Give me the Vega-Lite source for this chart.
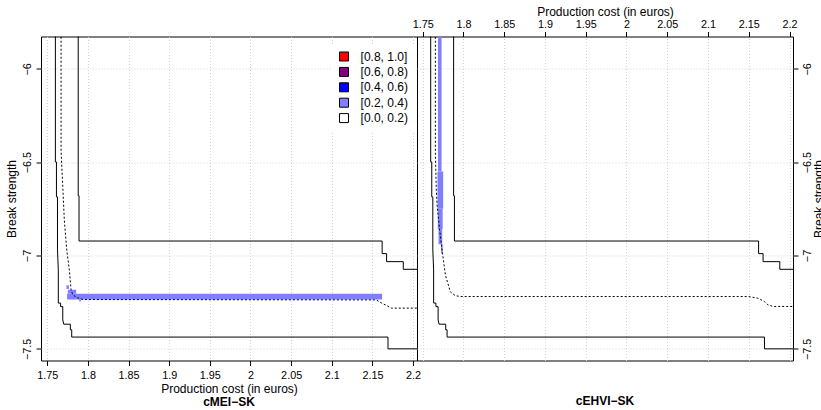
{
  "$schema": "https://vega.github.io/schema/vega-lite/v6.json",
  "padding": {"left": 4, "top": 4.5, "right": 0, "bottom": 0},
  "background": "white",
  "spacing": 0,
  "bounds": "flush",
  "datasets": {
    "attain": [
      {"line": "worst", "i": 0, "x": 1.7880, "y": -5.70},
      {"line": "worst", "i": 1, "x": 1.7880, "y": -6.68},
      {"line": "worst", "i": 2, "x": 1.7890, "y": -6.68},
      {"line": "worst", "i": 3, "x": 1.7890, "y": -6.9225},
      {"line": "worst", "i": 4, "x": 2.162, "y": -6.9225},
      {"line": "worst", "i": 5, "x": 2.162, "y": -6.99},
      {"line": "worst", "i": 6, "x": 2.1675, "y": -6.99},
      {"line": "worst", "i": 7, "x": 2.1675, "y": -7.033},
      {"line": "worst", "i": 8, "x": 2.188, "y": -7.033},
      {"line": "worst", "i": 9, "x": 2.188, "y": -7.074},
      {"line": "worst", "i": 10, "x": 2.23, "y": -7.074},
      {"line": "best", "i": 0, "x": 1.7599, "y": -5.70},
      {"line": "best", "i": 1, "x": 1.7599, "y": -6.499},
      {"line": "best", "i": 2, "x": 1.7612, "y": -6.499},
      {"line": "best", "i": 3, "x": 1.7612, "y": -6.686},
      {"line": "best", "i": 4, "x": 1.7625, "y": -6.686},
      {"line": "best", "i": 5, "x": 1.7625, "y": -6.97},
      {"line": "best", "i": 6, "x": 1.7635, "y": -7.077},
      {"line": "best", "i": 7, "x": 1.7635, "y": -7.255},
      {"line": "best", "i": 8, "x": 1.7663, "y": -7.255},
      {"line": "best", "i": 9, "x": 1.7663, "y": -7.274},
      {"line": "best", "i": 10, "x": 1.769, "y": -7.274},
      {"line": "best", "i": 11, "x": 1.769, "y": -7.345},
      {"line": "best", "i": 12, "x": 1.7702, "y": -7.368},
      {"line": "best", "i": 13, "x": 1.7783, "y": -7.368},
      {"line": "best", "i": 14, "x": 1.7783, "y": -7.398},
      {"line": "best", "i": 15, "x": 1.7800, "y": -7.398},
      {"line": "best", "i": 16, "x": 1.7800, "y": -7.437},
      {"line": "best", "i": 17, "x": 2.1692, "y": -7.437},
      {"line": "best", "i": 18, "x": 2.1692, "y": -7.5},
      {"line": "best", "i": 19, "x": 2.23, "y": -7.5}
    ],
    "medL": [
      {"i": 0, "x": 1.7669, "y": -5.70},
      {"i": 1, "x": 1.7669, "y": -6.44},
      {"i": 2, "x": 1.769, "y": -6.632},
      {"i": 3, "x": 1.7709, "y": -6.81},
      {"i": 4, "x": 1.7739, "y": -6.971},
      {"i": 5, "x": 1.7771, "y": -7.077},
      {"i": 6, "x": 1.7792, "y": -7.184},
      {"i": 7, "x": 1.7813, "y": -7.211},
      {"i": 8, "x": 1.7874, "y": -7.227},
      {"i": 9, "x": 1.794, "y": -7.236},
      {"i": 10, "x": 2.1548, "y": -7.238},
      {"i": 11, "x": 2.161, "y": -7.254},
      {"i": 12, "x": 2.1684, "y": -7.27},
      {"i": 13, "x": 2.1733, "y": -7.282},
      {"i": 14, "x": 2.23, "y": -7.282}
    ],
    "medR": [
      {"i": 0, "x": 1.7656, "y": -5.70},
      {"i": 1, "x": 1.7656, "y": -6.45},
      {"i": 2, "x": 1.7668, "y": -6.65},
      {"i": 3, "x": 1.7677, "y": -6.73},
      {"i": 4, "x": 1.7709, "y": -6.864},
      {"i": 5, "x": 1.7739, "y": -6.971},
      {"i": 6, "x": 1.7779, "y": -7.104},
      {"i": 7, "x": 1.784, "y": -7.195},
      {"i": 8, "x": 1.790, "y": -7.215},
      {"i": 9, "x": 1.7963, "y": -7.220},
      {"i": 10, "x": 2.150, "y": -7.220},
      {"i": 11, "x": 2.1611, "y": -7.229},
      {"i": 12, "x": 2.1692, "y": -7.247},
      {"i": 13, "x": 2.1734, "y": -7.264},
      {"i": 14, "x": 2.1796, "y": -7.273},
      {"i": 15, "x": 2.23, "y": -7.273}
    ],
    "blueL": [
      {"x": 1.7743, "xe": 2.162, "y": -7.236, "ye": -7.205, "level": "[0.2, 0.4)"},
      {"x": 1.7752, "xe": 1.7855, "y": -7.205, "ye": -7.183, "level": "[0.2, 0.4)"},
      {"x": 1.7735, "xe": 1.7765, "y": -7.18, "ye": -7.16, "level": "[0.2, 0.4)"},
      {"x": 1.789, "xe": 1.7915, "y": -7.245, "ye": -7.236, "level": "[0.2, 0.4)"}
    ],
    "blueR": [
      {"x": 1.7689, "xe": 1.7732, "y": -6.55, "ye": -5.70, "level": "[0.2, 0.4)"},
      {"x": 1.7682, "xe": 1.7752, "y": -6.75, "ye": -6.55, "level": "[0.2, 0.4)"},
      {"x": 1.7686, "xe": 1.7746, "y": -6.86, "ye": -6.75, "level": "[0.2, 0.4)"},
      {"x": 1.7695, "xe": 1.7740, "y": -6.94, "ye": -6.86, "level": "[0.2, 0.4)"},
      {"x": 1.7725, "xe": 1.7746, "y": -6.99, "ye": -6.94, "level": "[0.2, 0.4)"}
    ]
  },
  "hconcat": [
    {
      "width": 376,
      "height": 324,
      "title": {"text": "cMEI−SK", "orient": "bottom", "anchor": "middle", "frame": "group", "fontSize": 12, "fontWeight": "bold", "font": "Liberation Sans", "color": "black", "offset": 2},
      "encoding": {
        "x": {"field": "x", "type": "quantitative", "title": "Production cost (in euros)",
              "scale": {"domain": [1.7422, 2.2049], "nice": false, "zero": false},
              "axis": {"orient": "bottom", "values": [1.75, 1.8, 1.85, 1.9, 1.95, 2, 2.05, 2.1, 2.15, 2.2], "format": "~g", "titlePadding": 4}},
        "y": {"field": "y", "type": "quantitative", "title": "Break strength",
              "scale": {"domain": [-7.5625, -5.827], "nice": false, "zero": false},
              "axis": {"orient": "left", "values": [-7.5, -7, -6.5, -6], "format": "~g", "labelAngle": -90, "labelAlign": "center", "labelBaseline": "bottom", "titlePadding": 3}}
      },
      "layer": [
        {
          "data": {"name": "blueL"},
          "mark": {"type": "rect", "clip": true},
          "encoding": {
            "x2": {"field": "xe"},
            "y2": {"field": "ye"},
            "color": {"field": "level", "type": "nominal",
              "scale": {"domain": ["[0.8, 1.0]", "[0.6, 0.8)", "[0.4, 0.6)", "[0.2, 0.4)", "[0.0, 0.2)"],
                        "range": ["#FF0000", "#800080", "#0000FF", "#8080FF", "#FFFFFF"]},
              "legend": {"orient": "none", "legendX": 291, "legendY": 8, "title": null,
                         "symbolType": "square", "symbolSize": 81, "symbolStrokeColor": "black", "symbolStrokeWidth": 1,
                         "labelFont": "Liberation Sans", "labelFontSize": 12, "labelColor": "black",
                         "fillColor": "white", "padding": 6, "rowPadding": 1.4, "labelOffset": 10.6}}
          }
        },
        {
          "data": {"name": "attain"},
          "mark": {"type": "line", "clip": true, "color": "black", "strokeWidth": 1},
          "encoding": {"detail": {"field": "line"}, "order": {"field": "i", "type": "quantitative"}}
        },
        {
          "data": {"name": "medL"},
          "mark": {"type": "line", "clip": true, "color": "black", "strokeWidth": 1, "strokeDash": [2, 2]},
          "encoding": {"order": {"field": "i", "type": "quantitative"}}
        }
      ]
    },
    {
      "width": 376,
      "height": 324,
      "title": {"text": "cEHVI−SK", "orient": "bottom", "anchor": "middle", "frame": "group", "fontSize": 12, "fontWeight": "bold", "font": "Liberation Sans", "color": "black", "offset": 35.5},
      "encoding": {
        "x": {"field": "x", "type": "quantitative", "title": "Production cost (in euros)",
              "scale": {"domain": [1.7431, 2.2042], "nice": false, "zero": false},
              "axis": {"orient": "top", "values": [1.75, 1.8, 1.85, 1.9, 1.95, 2, 2.05, 2.1, 2.15, 2.2], "format": "~g", "labelPadding": 2, "titlePadding": 0}},
        "y": {"field": "y", "type": "quantitative", "title": "Break strength",
              "scale": {"domain": [-7.5625, -5.827], "nice": false, "zero": false},
              "axis": {"orient": "right", "values": [-7.5, -7, -6.5, -6], "format": "~g", "labelAngle": -90, "labelAlign": "center", "labelBaseline": "top", "titleAngle": -90, "titleBaseline": "top", "titlePadding": 1}}
      },
      "layer": [
        {
          "data": {"name": "blueR"},
          "mark": {"type": "rect", "clip": true, "color": "#8080FF"},
          "encoding": {"x2": {"field": "xe"}, "y2": {"field": "ye"}}
        },
        {
          "data": {"name": "attain"},
          "mark": {"type": "line", "clip": true, "color": "black", "strokeWidth": 1},
          "encoding": {"detail": {"field": "line"}, "order": {"field": "i", "type": "quantitative"}}
        },
        {
          "data": {"name": "medR"},
          "mark": {"type": "line", "clip": true, "color": "black", "strokeWidth": 1, "strokeDash": [2, 2]},
          "encoding": {"order": {"field": "i", "type": "quantitative"}}
        }
      ]
    }
  ],
  "config": {
    "font": "Liberation Sans",
    "view": {"stroke": "black", "strokeWidth": 1},
    "axis": {
      "labelFont": "Liberation Sans", "titleFont": "Liberation Sans",
      "labelFontSize": 10.8, "titleFontSize": 12, "titleFontWeight": "normal",
      "labelColor": "black", "titleColor": "black", "tickColor": "black", "tickSize": 5,
      "labelPadding": 3.5, "domain": false, "grid": true, "gridColor": "#d3d3d3", "gridDash": [1, 2],
      "labelFlush": false, "labelOverlap": false
    }
  }
}
